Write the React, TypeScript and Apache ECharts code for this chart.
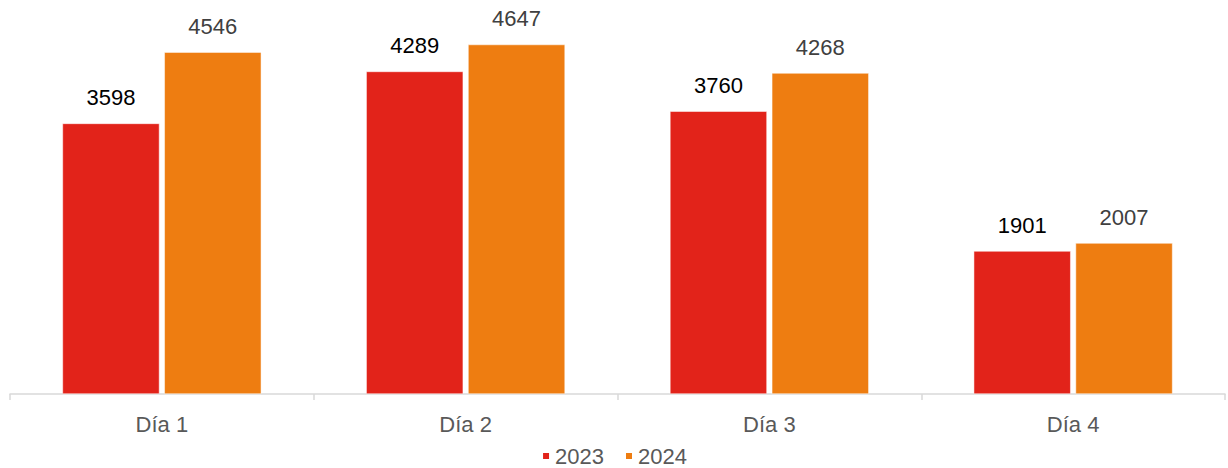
import React, { useEffect, useRef } from "react";
import * as echarts from "echarts";

const categories = ["Día 1", "Día 2", "Día 3", "Día 4"];
const values2023 = [3598, 4289, 3760, 1901];
const values2024 = [4546, 4647, 4268, 2007];
const seriesNames = ["2023", "2024"];

export default function App() {
  const ref = useRef<HTMLDivElement>(null);
  useEffect(() => {
    const chart = echarts.init(ref.current!, null, { renderer: "svg" });
    const font = "'Liberation Sans', Arial, sans-serif";
    chart.setOption({
      animation: false,
      grid: { left: 10, right: 3, top: 18, bottom: 74, containLabel: false },
      legend: {
        data: seriesNames,
        top: 440,
        left: "center",
        padding: [5, 5, 0, 5],
        icon: "rect",
        itemWidth: 8,
        itemHeight: 8,
        itemGap: 20,
        textStyle: { fontSize: 22, color: "#595959", fontFamily: font },
      },
      xAxis: {
        type: "category",
        data: categories,
        axisLine: { lineStyle: { color: "#d9d9d9", width: 1.5 } },
        axisTick: { show: true, length: 6, lineStyle: { color: "#d9d9d9", width: 1.5 } },
        axisLabel: { fontSize: 22, color: "#595959", margin: 19, fontFamily: font },
      },
      yAxis: {
        type: "value",
        min: 0,
        max: 5000,
        show: false,
        splitLine: { show: false },
      },
      series: [
        {
          name: seriesNames[0],
          type: "bar",
          data: values2023,
          barWidth: 97,
          barGap: "5%",
          itemStyle: { color: "#e2231a", borderColor: "#ffffff", borderWidth: 0.5 },
          label: { show: true, position: "top", distance: 15, fontSize: 22, color: "#000000", fontFamily: font },
        },
        {
          name: seriesNames[1],
          type: "bar",
          data: values2024,
          barWidth: 97,
          itemStyle: { color: "#ee7d11", borderColor: "#ffffff", borderWidth: 0.5 },
          label: { show: true, position: "top", distance: 15, fontSize: 22, color: "#404040", fontFamily: font },
        },
      ],
    });
    return () => chart.dispose();
  }, []);
  return (
    <div
      ref={ref}
      style={{ position: "fixed", left: 0, top: 0, width: 1228, height: 468, background: "#ffffff" }}
    />
  );
}
